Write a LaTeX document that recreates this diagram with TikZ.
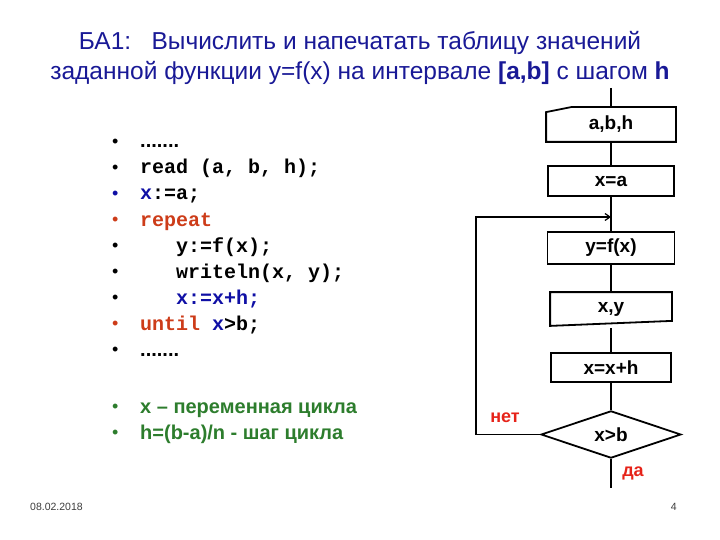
\documentclass[tikz,border=0pt]{standalone}
\usepackage{fontspec}
\setmainfont{Liberation Sans}
\setmonofont{Liberation Mono}
\usetikzlibrary{positioning, arrows.meta, shapes.geometric}

\definecolor{ttlblue}{RGB}{25,25,150}
\definecolor{kwred}{RGB}{205,60,25}
\definecolor{varblue}{RGB}{15,15,165}
\definecolor{notegreen}{RGB}{45,125,45}
\definecolor{lblred}{RGB}{230,35,25}
\definecolor{footgray}{RGB}{60,60,60}

% bullet in front of a line
\newcommand{\blt}[1][black]{\makebox[27pt][l]{\hspace*{-1pt}\textcolor{#1}{\rmfamily\mdseries\fontsize{18}{18}\selectfont\raisebox{0.5pt}{•}}}}

\begin{document}
\begin{tikzpicture}[x=1pt, y=-1pt,
  blk/.style={draw, line width=1.8pt, minimum width=#1, font=\bfseries\fontsize{19}{20}\selectfont,
              inner sep=2pt},
  blk/.default=120pt,
  flow/.style={line width=1.8pt},
  code/.style={anchor=base west, inner sep=0pt, font=\ttfamily\bfseries\fontsize{20}{24}\selectfont},
  note/.style={anchor=base west, inner sep=0pt, text=notegreen, font=\bfseries\fontsize{20}{24}\selectfont},
  lbl/.style={text=lblred, font=\bfseries\fontsize{18}{20}\selectfont, inner sep=0pt}]
  \useasboundingbox (0,0) rectangle (720,540);

  % heading
  \node[text=ttlblue, align=center, font=\fontsize{24.5}{30}\selectfont] (title) at (360,58)
    {БА1:\ \ \ Вычислить и напечатать таблицу значений\\
     заданной функции y=f(x) на интервале \textbf{[a,b]} с шагом \textbf{h}};

  % program text
  \node[code] (c1) at (113,148) {\blt{\rmfamily .......}};
  \node[code] (c2) at (113,174) {\blt read (a, b, h);};
  \node[code] (c3) at (113,200) {\blt[varblue]\textcolor{varblue}{x}:=a;};
  \node[code] (c4) at (113,226) {\blt[kwred]\textcolor{kwred}{repeat}};
  \node[code] (c5) at (113,252) {\blt\ \ \ y:=f(x);};
  \node[code] (c6) at (113,278) {\blt\ \ \ writeln(x, y);};
  \node[code] (c7) at (113,304) {\blt\ \ \ \textcolor{varblue}{x:=x+h;}};
  \node[code] (c8) at (113,330) {\blt[kwred]\textcolor{kwred}{until} \textcolor{varblue}{x}>b;};
  \node[code] (c9) at (113,356) {\blt{\rmfamily .......}};

  \node[note] (n1) at (113,413) {\blt[notegreen]x – переменная цикла};
  \node[note] (n2) at (113,439) {\blt[notegreen]h=(b-a)/n - шаг цикла};

  % flowchart
  \coordinate (top) at (611,88);
  \node[blk=128pt, draw=none, minimum height=33pt] (inp) at (611,124.5) {a,b,h};
  \draw[flow] (inp.south west) -- (inp.south east) -- (inp.north east)
    -- ([xshift=25pt]inp.north west) -- ([yshift=-5pt]inp.north west) -- cycle;
  \node[blk=126pt, minimum height=30pt] (init) at (611,181) {x=a};
  \node[blk=127pt, minimum height=32pt] (body) at (611,248) {y=f(x)};
  \node[blk, draw=none, minimum height=32pt] (outp) at (611,309) {x,y};
  \draw[flow] (outp.south west) -- ([yshift=5pt]outp.south east) -- (outp.north east)
    -- (outp.north west) -- cycle;
  \node[blk, minimum height=29pt] (upd) at (611,367.5) {x=x+h};
  \node[blk, diamond, minimum width=140pt, minimum height=47pt, inner sep=0pt] (cond) at (611,434.5) {x>b};
  \coordinate (back) at (476,217);
  \coordinate (join) at (611,217);
  \coordinate (exit) at (611,488);

  \draw[flow] (top) -- (inp);
  \draw[flow] (inp) -- (init);
  \draw[flow] (init) -- (body);
  \draw[flow] (body) -- (outp);
  \draw[flow] ([yshift=-2.5pt]outp.south) -- (upd);
  \draw[flow] (upd) -- (cond);
  \draw[flow] (cond) -- (exit);
  \draw[flow, -{Straight Barb[length=5pt, width=7pt, line width=1.2pt]}] (cond.west) -| (back) -- (join);

  \node[lbl] (no) at (505,418) {нет};
  \node[lbl] (yes) at (633,473) {да};

  % footer
  \node[anchor=base west, inner sep=0pt, text=footgray, font=\fontsize{10.5}{12}\selectfont] (date) at (30,510) {08.02.2018};
  \node[anchor=base east, inner sep=0pt, text=footgray, font=\fontsize{10.5}{12}\selectfont] (page) at (677,510) {4};
\end{tikzpicture}
\end{document}
